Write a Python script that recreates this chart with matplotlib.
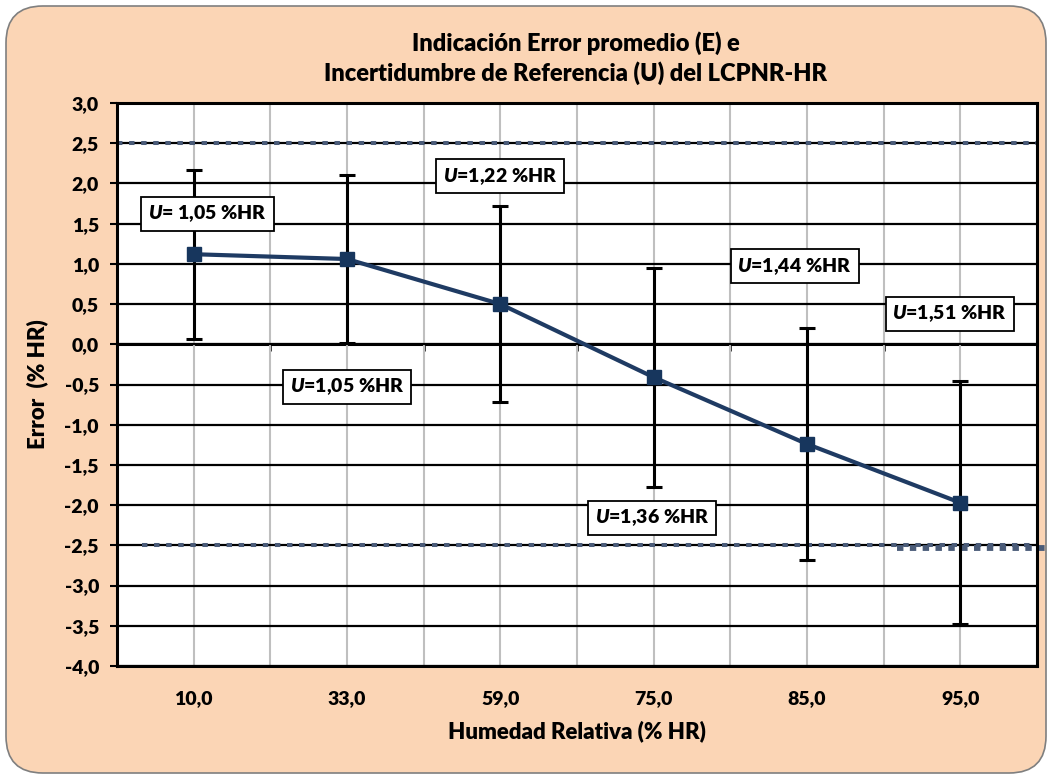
import matplotlib
matplotlib.use("Agg")
import matplotlib.pyplot as plt
from matplotlib.patches import FancyBboxPatch
from matplotlib.ticker import MultipleLocator, FuncFormatter

WEIGHT = 'heavy'
plt.rcParams['font.family'] = ['Lato', 'DejaVu Sans']
plt.rcParams['font.weight'] = WEIGHT
plt.rcParams['mathtext.fontset'] = 'custom'
plt.rcParams['mathtext.it'] = 'Lato:italic:heavy'
plt.rcParams['mathtext.rm'] = 'Lato:heavy'
plt.rcParams['mathtext.bf'] = 'Lato:heavy'

# ---- data ----
categories = ["10,0", "33,0", "59,0", "75,0", "85,0", "95,0"]
error_mean = [1.12, 1.06, 0.50, -0.41, -1.24, -1.97]
uncertainty = [1.05, 1.05, 1.22, 1.36, 1.44, 1.51]
u_labels = ["= 1,05 %HR", "=1,05 %HR", "=1,22 %HR", "=1,36 %HR", "=1,44 %HR", "=1,51 %HR"]
u_label_pos = [(0.09, 1.62), (1.0, -0.53), (2.0, 2.09), (2.99, -2.16), (3.92, 0.97), (4.93, 0.38)]
limit_upper = 2.5
limit_lower = -2.5
lower_limit_span = (-0.34, 5.5)
lower_limit_extra = (4.59, 5.57, -2.53)

W, H = 1052, 778
fig = plt.figure(figsize=(W / 100, H / 100), dpi=100)
fig.patch.set_facecolor('white')

bg = FancyBboxPatch((6 / W, 5 / H), 1 - 12 / W, 1 - 11 / H,
                    boxstyle="round,pad=0,rounding_size=0.035",
                    transform=fig.transFigure, facecolor='#FBD5B5',
                    edgecolor='#7F7F7F', linewidth=1.2, zorder=-10,
                    mutation_aspect=W / H)
fig.patches.append(bg)

ax = fig.add_axes([117 / W, 1 - 666 / H, 920 / W, 563 / H])
ax.set_zorder(1)
ax.set_facecolor('white')
x = list(range(len(categories)))
ax.set_xlim(-0.5, len(categories) - 0.5)
ax.set_ylim(-4.0, 3.0)

# grids
ax.yaxis.set_major_locator(MultipleLocator(0.5))
ax.xaxis.set_major_locator(MultipleLocator(1.0))
ax.xaxis.set_minor_locator(MultipleLocator(0.5))
ax.grid(axis='y', which='major', color='black', linewidth=1.6, zorder=1)
ax.grid(axis='x', which='both', color='#BFBFBF', linewidth=1.5, zorder=1)
ax.set_axisbelow(True)

for s in ax.spines.values():
    s.set_linewidth(2.2)
    s.set_color('black')
    s.set_zorder(6)

ax.yaxis.set_major_formatter(FuncFormatter(lambda v, p: f"{v:.1f}".replace('.', ',')))
ax.tick_params(axis='y', length=5, width=1.5, direction='out', labelsize=14, pad=8)
ax.set_xticks(x)
ax.set_xticklabels(categories)
ax.tick_params(axis='x', which='both', length=0, labelsize=14, pad=17)

# zero axis with ticks at category boundaries
sec = ax.secondary_xaxis(0, transform=ax.transData)
sec.set_xticks([i + 0.5 for i in range(-1, len(categories))])
sec.tick_params(axis='x', length=5, width=1.8, direction='out', labelbottom=False)
sec.spines['bottom'].set_linewidth(2.2)

# limits
lim_color = '#4A5B78'
dots = (0, (1.35, 1.65))
ax.plot([-0.5, len(categories) - 0.5], [limit_upper, limit_upper], linestyle=dots,
        color=lim_color, linewidth=2.9, zorder=3, dash_capstyle='butt')
ax.plot(list(lower_limit_span), [limit_lower, limit_lower], linestyle=dots,
        color=lim_color, linewidth=2.9, zorder=3, dash_capstyle='butt')
ax.plot(list(lower_limit_extra[:2]), [lower_limit_extra[2]] * 2, linestyle=(0, (1.1, 1.1)),
        color=lim_color, linewidth=4.2, zorder=3, dash_capstyle='butt', clip_on=False)

# error bars and series
ax.errorbar(x, error_mean, yerr=uncertainty, fmt='none', ecolor='black',
            elinewidth=2.2, capsize=6, capthick=2.2, zorder=4)
ax.plot(x, error_mean, color='#1F3B63', linewidth=3, marker='s', markersize=10,
        markerfacecolor='#17365D', markeredgecolor='#17365D', zorder=5)

# annotations
for lab, (lx, ly) in zip(u_labels, u_label_pos):
    txt = "$U$" + lab
    ax.text(lx, ly, txt, ha='center', va='center', fontsize=14, fontweight=WEIGHT,
            zorder=7, bbox=dict(boxstyle='square,pad=0.35', facecolor='white',
                                edgecolor='black', linewidth=1.3))

fig.text(576 / W, 1 - 58 / H, "Indicación Error promedio (E) e\nIncertidumbre de Referencia (U) del LCPNR-HR",
         ha='center', va='center', fontsize=17, fontweight=WEIGHT, linespacing=1.35)
ax.set_xlabel("Humedad Relativa (% HR)", fontsize=16, fontweight=WEIGHT, labelpad=10)
ax.set_ylabel("Error  (% HR)", fontsize=16, fontweight=WEIGHT, labelpad=12)

fig.savefig("out.png", dpi=100, facecolor=fig.get_facecolor())
